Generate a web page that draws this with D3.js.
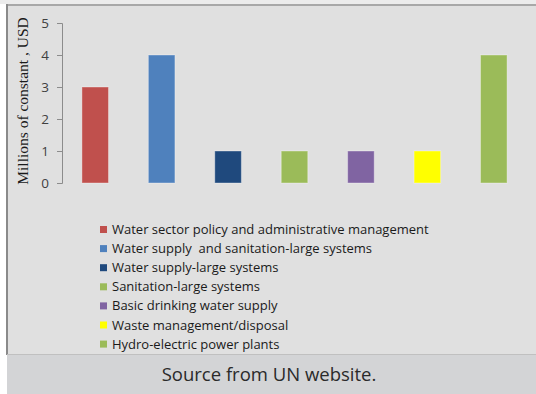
<!DOCTYPE html>
<html>
<head>
<meta charset="utf-8">
<script src="https://cdn.jsdelivr.net/npm/d3@7/dist/d3.min.js"></script>
<style>
  html, body { margin: 0; padding: 0; background: #ffffff; }
  svg { display: block; }
</style>
</head>
<body>
<svg id="chart" width="536" height="394"></svg>
<script>
// Funding by water-sector purpose (millions of constant USD)
const categories = [
  "Water sector policy and administrative management",
  "Water supply  and sanitation-large systems",
  "Water supply-large systems",
  "Sanitation-large systems",
  "Basic drinking water supply",
  "Waste management/disposal",
  "Hydro-electric power plants"
];
const values = [3, 4, 1, 1, 1, 1, 4];
const colors = ["#c0504d", "#4f81bd", "#1f497d", "#9bbb59", "#8064a2", "#ffff00", "#9bbb59"];
const yTicks = [0, 1, 2, 3, 4, 5];
const yTitle = "Millions of constant , USD";
const caption = "Source from UN website.";

const svg = d3.select("#chart");
const W = 536, H = 394;

// frame: panel, top rule, left rule, caption strip
svg.append("rect").attr("x", 0).attr("y", 0).attr("width", W).attr("height", 4).attr("fill", "#ececec");
svg.append("rect").attr("x", 7).attr("y", 4).attr("width", W - 7).attr("height", 351).attr("fill", "#e0e0e0");
svg.append("rect").attr("x", 7).attr("y", 4).attr("width", W - 7).attr("height", 2).attr("fill", "#a8a8a8");
svg.append("rect").attr("x", 6).attr("y", 4).attr("width", 2).attr("height", 351).attr("fill", "#8a8a8a");
svg.append("rect").attr("x", 7).attr("y", 355).attr("width", W - 7).attr("height", H - 355).attr("fill", "#d3d4d6");
svg.append("rect").attr("x", 7).attr("y", 354).attr("width", W - 7).attr("height", 1).attr("fill", "#c0c0c0");

const x = d3.scaleBand()
  .domain(categories)
  .range([62, 527])
  .paddingInner(0.6)
  .paddingOuter(0.3);

const y = d3.scaleLinear().domain([0, 5]).range([183, 23]);

// y axis
const yAxis = svg.append("g")
  .attr("transform", "translate(62,0)")
  .call(d3.axisLeft(y).tickValues(yTicks).tickSize(5).tickPadding(8).tickFormat(d3.format("d")));
yAxis.select(".domain").attr("stroke", "#8c8c8c").attr("d", "M-5,23.5H0.5V183.5H-5");
yAxis.selectAll(".tick line").attr("stroke", "#8c8c8c");
yAxis.selectAll(".tick text")
  .attr("fill", "#404040")
  .style("font-family", "'Open Sans', 'Liberation Sans', sans-serif")
  .style("font-size", "13.5px");

svg.append("text")
  .attr("transform", "translate(27.5,101) rotate(-90)")
  .attr("text-anchor", "middle")
  .attr("fill", "#1a1a1a")
  .style("font-family", "'Liberation Serif', 'DejaVu Serif', serif")
  .style("font-size", "15.5px")
  .text(yTitle);

// bars
svg.append("g").selectAll("rect")
  .data(values)
  .join("rect")
  .attr("x", (d, i) => x(categories[i]))
  .attr("y", d => y(d))
  .attr("width", x.bandwidth())
  .attr("height", d => y(0) - y(d))
  .attr("fill", (d, i) => colors[i])
  .attr("stroke", "rgba(255,255,255,0.35)")
  .attr("stroke-width", 1);

// legend
const legend = svg.append("g").selectAll("g")
  .data(categories)
  .join("g")
  .attr("transform", (d, i) => `translate(100,${229.5 + i * 19.1})`);
legend.append("rect")
  .attr("x", 0).attr("y", -3.5)
  .attr("width", 7).attr("height", 7)
  .attr("fill", (d, i) => colors[i]);
legend.append("text")
  .attr("x", 12).attr("y", 0)
  .attr("dy", "0.35em")
  .attr("fill", "#1a1a1a")
  .style("font-family", "'Open Sans', 'Liberation Sans', sans-serif")
  .style("font-size", "13px")
  .style("white-space", "pre")
  .text(d => d);

// caption
svg.append("text")
  .attr("x", 269).attr("y", 375)
  .attr("dy", "0.35em")
  .attr("text-anchor", "middle")
  .attr("fill", "#2a2a2a")
  .style("font-family", "'Open Sans', 'Liberation Sans', sans-serif")
  .style("font-size", "18.5px")
  .text(caption);
</script>
</body>
</html>
